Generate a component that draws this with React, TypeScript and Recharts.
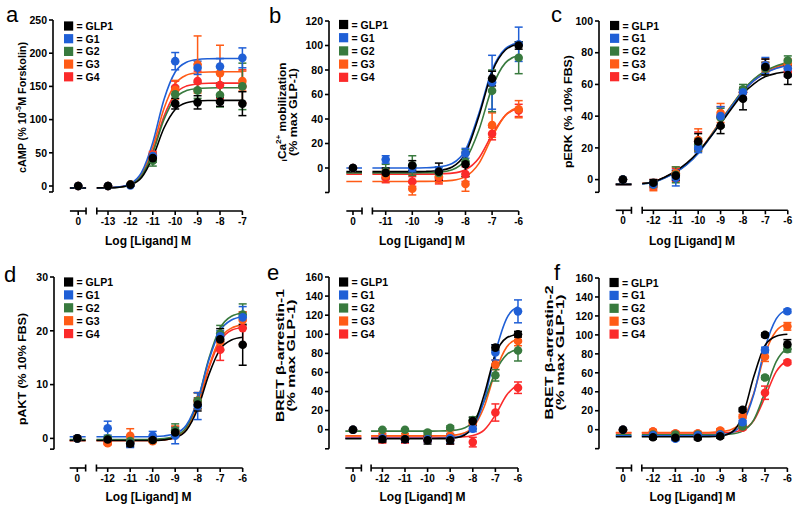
import React from 'react';
import { ComposedChart, Line, Scatter, ErrorBar, XAxis, YAxis, ReferenceLine } from 'recharts';

const FONT = '"Liberation Sans", Arial, Helvetica, sans-serif';
const SERIES = ['GLP1', 'G1', 'G2', 'G3', 'G4'];
const COLORS = ['#000000', '#1f5fd6', '#387a3e', '#ff5b16', '#fb2a2a'];
const DRAW_ORDER = [4, 3, 2, 1, 0];

// ---- a: cAMP ----  (first x = no ligand, drawn at "0")
const A_X = [-14.33, -13, -12, -11, -10, -9, -8, -7];
const A_XTICKS = [-13, -12, -11, -10, -9, -8, -7];
const A_YTICKS = [0, 50, 100, 150, 200, 250];
const A_MEAN = [
  [0, 0, 2, 42, 124, 126, 127, 124],
  [0, 0, 1, 45, 188, 178, 180, 193],
  [0, 0, 2, 38, 138, 144, 137, 150],
  [0, 0, 2, 46, 145, 183, 170, 158],
  [0, 0, 2, 47, 148, 158, 152, 150],
];
const A_ERR = [
  [0, 1, 1, 6, 8, 10, 7, 18],
  [0, 1, 1, 5, 13, 10, 12, 15],
  [0, 1, 1, 8, 12, 12, 18, 35],
  [0, 1, 1, 5, 14, 43, 42, 15],
  [0, 1, 1, 5, 10, 15, 20, 25],
];
const A_FIT_X = [-14.7, -13.98, -13.75, -13.5, -13, -12.5, -12, -11.5, -11, -10.5, -10, -9.5, -9, -8.5, -8, -7.5, -7];
const A_FIT = [
  [-3, -3, null, -2.9, -2.7, -1.9, 1.4, 12.9, 43.5, 87.3, 115.3, 125.3, 128.0, 128.7, 128.9, 129, 129],
  [-3, -3, null, -2.9, -2.6, -1.3, 3.5, 20.5, 65.7, 130.4, 171.7, 186.5, 190.6, 191.6, 191.9, 192, 192],
  [-3, -3, null, -2.9, -2.7, -1.7, 2.0, 15.2, 50.2, 100.3, 132.3, 143.7, 146.9, 147.7, 147.9, 148, 148],
  [-3, -3, null, -2.9, -2.6, -1.5, 2.8, 18.1, 58.7, 116.8, 153.8, 167.0, 170.7, 171.7, 171.9, 172, 172],
  [-3, -3, null, -2.9, -2.7, -1.6, 2.2, 16.0, 52.7, 105.1, 138.6, 150.5, 153.8, 154.7, 154.9, 155, 155],
];

// ---- b: iCa2+ ----
const B_X = [-12.23, -11, -10, -9, -8, -7, -6];
const B_XTICKS = [-11, -10, -9, -8, -7, -6];
const B_YTICKS = [0, 20, 40, 60, 80, 100, 120];
const B_MEAN = [
  [0, -4, 2, -3, 3, 73, 100],
  [0, 7, 0, -2, 12, 70, 101],
  [0, -3, 2, -4, 5, 63, 90],
  [0, -6, -17, -7, -13, 35, 48],
  [0, -8, -11, -8, -5, 28, 47],
];
const B_ERR = [
  [0, 4, 4, 7, 10, 6, 3],
  [0, 3, 3, 3, 4, 22, 14],
  [0, 6, 8, 5, 10, 17, 13],
  [0, 5, 5, 5, 6, 10, 7],
  [0, 4, 4, 5, 6, 5, 5],
];
const B_FIT_X = [-12.48, -11.89, -11.7, -11.5, -11, -10.5, -10, -9.5, -9, -8.5, -8, -7.5, -7, -6.5, -6];
const B_FIT = [
  [-3, -3, null, -3, -3, -3, -3, -2.8, -2.1, 0.8, 12.1, 42.1, 78.4, 96.3, 101.4],
  [0, 0, null, 0, 0, 0, 0, 0.2, 0.9, 3.7, 14.8, 44.3, 79.9, 97.4, 102.4],
  [-4, -4, null, -4, -4, -4, -4, -3.9, -3.4, -1.4, 6.7, 30.8, 65.6, 85.8, 92.0],
  [-11, -11, null, -11, -11, -11, -11, -10.9, -10.8, -10.1, -7.0, 3.6, 25.2, 43.0, 49.7],
  [-5, -5, null, -5, -5, -5, -5, -5, -4.8, -4.2, -1.4, 8.0, 27.2, 43.0, 49.0],
];

// ---- c: pERK ----
const C_X = [-13.36, -12, -11, -10, -9, -8, -7, -6];
const C_XTICKS = [-12, -11, -10, -9, -8, -7, -6];
const C_YTICKS = [0, 20, 40, 60, 80, 100];
const C_MEAN = [
  [0, -2, 2.5, 24, 34, 51, 71, 66],
  [0, -3, 1, 20, 40, 55, 72, 70],
  [0, -3, 3, 22, 39, 57, 70, 75],
  [0, -4, 4, 25, 42, 55, 72, 73],
  [0, -3, 3, 24, 40, 55, 70, 68],
];
const C_ERR = [
  [0, 2, 3, 5, 5, 7, 5, 6],
  [0, 2, 5, 3, 6, 3, 5, 5],
  [0, 2, 5, 4, 6, 3, 4, 3],
  [0, 3, 4, 7, 6, 3, 4, 3],
  [0, 3, 4, 6, 6, 3, 4, 3],
];
const C_FIT_X = [-13.68, -12.98, -12.75, -12.5, -12, -11.5, -11, -10.5, -10, -9.5, -9, -8.5, -8, -7.5, -7, -6.5, -6];
const C_FIT = [
  [-3, -3, null, -2.5, -1.5, 1.5, 5.4, 10.5, 17.4, 26, 35.3, 45, 54.2, 60.5, 65, 67, 68],
  [-3, -3, null, -2.7, -1.7, 1.0, 4.6, 9.6, 16.5, 25.8, 36.0, 46.2, 55.5, 62.5, 67.2, 70.2, 72],
  [-3, -3, null, -2.6, -1.6, 1.2, 4.8, 9.8, 16.8, 26.2, 36.5, 46.8, 56.3, 63.5, 68.6, 71.8, 74],
  [-3, -3, null, -2.5, -1.5, 1.3, 5.0, 10.1, 17.2, 26.7, 37.0, 47.0, 56.2, 63.2, 68.2, 71.3, 73.3],
  [-3, -3, null, -2.5, -1.5, 1.3, 5.0, 10.0, 17.0, 26.4, 36.6, 46.5, 55.6, 62.5, 67.4, 70.5, 72.5],
];

// ---- d: pAKT ----
const D_X = [-13.35, -12, -11, -10, -9, -8, -7, -6];
const D_XTICKS = [-12, -11, -10, -9, -8, -7, -6];
const D_YTICKS = [0, 10, 20, 30];
const D_MEAN = [
  [0, -0.2, -1, -0.3, 1.1, 6.3, 18.4, 17.4],
  [0, 1.9, -1, 0.5, 0.5, 6, 19, 22.5],
  [0, 0, -0.5, -0.3, 1.5, 7, 19.5, 23],
  [0, -0.9, 0.5, -0.5, 1.3, 7, 18, 22],
  [0, -0.8, -0.5, -0.3, 1.2, 7, 16.5, 20.5],
];
const D_ERR = [
  [0, 0.3, 0.5, 0.3, 0.5, 1.2, 2, 3.8],
  [0, 1.3, 0.7, 0.8, 1.5, 2.5, 1, 2],
  [0, 0.3, 0.3, 0.3, 1.2, 1.5, 1.5, 2],
  [0, 0.3, 1.3, 0.3, 1, 1.5, 1.5, 1.5],
  [0, 0.3, 0.3, 0.3, 1, 1.5, 2, 3],
];
const D_FIT_X = [-13.69, -12.98, -12.75, -12.5, -12, -11.5, -11, -10.5, -10, -9.5, -9, -8.5, -8, -7.5, -7, -6.5, -6];
const D_FIT = [
  [-0.4, -0.4, null, -0.4, -0.4, -0.4, -0.4, -0.4, -0.4, -0.27, 0.1, 1.5, 5.5, 11.9, 16.6, 18.3, 18.8],
  [0.3, 0.3, null, 0.3, 0.3, 0.3, 0.3, 0.3, 0.34, 0.46, 0.9, 2.5, 7.1, 14.6, 20.0, 22.0, 22.6],
  [-0.2, -0.2, null, -0.2, -0.2, -0.2, -0.2, -0.2, -0.16, -0.04, 0.44, 2.1, 7.0, 14.9, 20.5, 22.7, 23.3],
  [-0.4, -0.4, null, -0.4, -0.4, -0.4, -0.4, -0.4, -0.36, -0.25, 0.18, 1.74, 6.2, 13.4, 18.6, 20.5, 21.1],
  [-0.4, -0.4, null, -0.4, -0.4, -0.4, -0.4, -0.4, -0.36, -0.25, 0.17, 1.7, 6.0, 13.1, 18.1, 20.1, 20.6],
];

// ---- e: BRET beta-arrestin-1 ----
const E_X = [-13.3, -12, -11, -10, -9, -8, -7, -6];
const E_XTICKS = [-12, -11, -10, -9, -8, -7, -6];
const E_YTICKS = [0, 20, 40, 60, 80, 100, 120, 140, 160];
const E_MEAN = [
  [0, -10, -10, -11, -11, 9, 86, 100],
  [0, -9, -10, -10, -9, 1, 81, 124],
  [0, 0, 0, -3, 2, 10, 57, 83],
  [0, -7, -8, -9, -6, 7, 68, 93],
  [0, -9, -10, -10, -10, -13, 18, 44],
];
const E_ERR = [
  [0, 3, 3, 4, 4, 4, 3, 3],
  [0, 3, 3, 3, 5, 3, 8, 12],
  [0, 1, 1, 2, 2, 3, 6, 11],
  [0, 5, 4, 3, 5, 3, 5, 5],
  [0, 5, 4, 3, 5, 5, 9, 6],
];
const E_FIT_X = [-13.64, -12.93, -12.7, -12.5, -12, -11.5, -11, -10.5, -10, -9.5, -9, -8.5, -8, -7.5, -7, -6.5, -6];
const E_FIT = [
  [-9.5, -9.5, null, -9.5, -9.5, -9.5, -9.5, -9.5, -9.5, -9.4, -9.1, -7.1, 2.9, 36.3, 78.8, 96.3, 100.1],
  [-9, -9, null, -9, -9, -9, -9, -9, -9, -8.9, -8.4, -6.3, 2.2, 30.4, 80.7, 116.6, 129.0],
  [-1.5, -1.5, null, -1.5, -1.5, -1.5, -1.5, -1.5, -1.5, -1.4, -1.0, 0.8, 8.1, 29.5, 60.7, 78.7, 84.3],
  [-6.5, -6.5, null, -6.5, -6.5, -6.5, -6.5, -6.5, -6.5, -6.4, -6.0, -4.4, 2.2, 23.8, 60.9, 86.6, 95.2],
  [-8, -8, null, -8, -8, -8, -8, -8, -8, -8, -7.9, -7.6, -6.1, -0.5, 15.4, 36.4, 47.6],
];

// ---- f: BRET beta-arrestin-2 ----
const F_X = [-13.34, -12, -11, -10, -9, -8, -7, -6];
const F_XTICKS = [-12, -11, -10, -9, -8, -7, -6];
const F_YTICKS = [0, 20, 40, 60, 80, 100, 120, 140, 160];
const F_MEAN = [
  [0, -8, -8.5, -8.5, -7, 21, 100, 90],
  [0, -6, -9.5, -6, -5, 8, 84, 125],
  [0, -5, -5, -5, -5, 3.5, 55, 85],
  [0, -2, -4, -4, -1, 14, 77, 109],
  [0, -2, -4, -4, -1.5, 2, 39, 71],
];
const F_ERR = [
  [0, 2, 2, 2, 2, 2, 2, 5],
  [0, 2, 2, 2, 2, 2, 3, 2],
  [0, 2, 2, 2, 2, 2, 2, 3],
  [0, 2, 2, 2, 2, 2, 5, 4],
  [0, 2, 2, 2, 2, 2, 7, 2],
];
const F_FIT_X = [-13.66, -12.96, -12.7, -12.5, -12, -11.5, -11, -10.5, -10, -9.5, -9, -8.5, -8, -7.5, -7, -6.5, -6];
const F_FIT = [
  [-7.5, -7.5, null, -7.5, -7.5, -7.5, -7.5, -7.5, -7.5, -7.35, -6.6, -2.9, 14.3, 56.0, 88.8, 98.6, 100.6],
  [-6.5, -6.5, null, -6.5, -6.5, -6.5, -6.5, -6.5, -6.5, -6.4, -5.8, -3.3, 6.6, 37.3, 86.2, 116.9, 126.9],
  [-5.5, -5.5, null, -5.5, -5.5, -5.5, -5.5, -5.5, -5.5, -5.4, -5.3, -4.6, -1.5, 10.3, 39.6, 71.9, 86.6],
  [-3, -3, null, -3, -3, -3, -3, -3, -3, -2.9, -2.3, 0.1, 9.8, 38.5, 80.1, 104.2, 111.7],
  [-3.5, -3.5, null, -3.5, -3.5, -3.5, -3.5, -3.5, -3.5, -3.4, -3.3, -2.7, -0.1, 9.7, 34.2, 61.2, 73.5],
];

// pixel layout of each panel (page coordinates)
type Lay = {
  left: number; right: number; top: number; axisY: number; zeroY: number;
  yMax: number; yEnd: number; refX: number; refPx: number; dec: number;
};
const LAY_A: Lay = { left: 53, right: 252, top: 20, axisY: 211, zeroY: 186, yMax: 250, yEnd: -9, refX: -13, refPx: 108, dec: 22.4 };
const LAY_B: Lay = { left: 329.3, right: 524, top: 20.7, axisY: 210.7, zeroY: 167.7, yMax: 120, yEnd: -20, refX: -11, refPx: 386, dec: 26.6 };
const LAY_C: Lay = { left: 599.3, right: 795, top: 20.7, axisY: 210, zeroY: 179.3, yMax: 100, yEnd: -8, refX: -12, refPx: 653.7, dec: 22.4 };
const LAY_D: Lay = { left: 54.3, right: 250, top: 277.3, axisY: 468.3, zeroY: 438.7, yMax: 30, yEnd: -2, refX: -12, refPx: 108, dec: 22.5 };
const LAY_E: Lay = { left: 329.3, right: 524, top: 277.3, axisY: 468.3, zeroY: 430, yMax: 160, yEnd: -20, refX: -12, refPx: 382.7, dec: 22.6 };
const LAY_F: Lay = { left: 599.3, right: 795, top: 278.3, axisY: 468.3, zeroY: 430, yMax: 160, yEnd: -20, refX: -12, refPx: 653.3, dec: 22.4 };

const YW = 50;
const MT = 8;
const XH = 30;
const AX = { stroke: '#000', strokeWidth: 1.6 };
const TICK = { fill: '#000', fontSize: 10.5, fontWeight: 700, fontFamily: FONT };

type PanelProps = {
  lay: Lay; xs: number[]; mean: number[][]; err: number[][];
  fitX: number[]; fit: (number | null)[][]; xTicks: number[]; yTicks: number[];
};

function Panel({ lay, xs, mean, err, fitX, fit, xTicks, yTicks }: PanelProps) {
  const ppu = (lay.zeroY - lay.top) / lay.yMax;
  const yMin = -(lay.axisY - lay.zeroY) / ppu;
  const xMin = lay.refX - (lay.refPx - lay.left) / lay.dec;
  const xMax = lay.refX + (lay.right - lay.refPx) / lay.dec;
  const zero = xs[0];
  const seg1 = [fitX[0], fitX[1]];
  const seg2 = [fitX[3], xTicks[xTicks.length - 1]];
  const nub = 3.5 / ppu;
  const width = lay.right - lay.left + YW;
  const height = lay.axisY - lay.top + MT + XH;

  return (
    <div style={{ position: 'absolute', left: lay.left - YW, top: lay.top - MT }}>
      <ComposedChart width={width} height={height} margin={{ top: MT, right: 0, bottom: 0, left: 0 }}>
        <XAxis
          type="number" dataKey="x" domain={[xMin, xMax]} ticks={[zero, ...xTicks]} interval={0}
          tickFormatter={(v: number) => (v === zero ? '0' : String(v))}
          axisLine={false} tickLine={AX} tickSize={4} tickMargin={3} height={XH}
          tick={{ ...TICK, fontSize: 10 }}
        />
        <YAxis
          type="number" domain={[yMin, lay.yMax]} ticks={[lay.yEnd, ...yTicks]} interval={0}
          tickFormatter={(v: number) => (v === lay.yEnd ? '' : String(v))}
          axisLine={false} tickLine={AX} tickSize={4} tickMargin={2} width={YW} tick={TICK}
        />
        <ReferenceLine segment={[{ x: xMin, y: lay.yEnd }, { x: xMin, y: lay.yMax }]} {...AX} ifOverflow="visible" />
        <ReferenceLine segment={[{ x: seg1[0], y: yMin }, { x: seg1[1], y: yMin }]} {...AX} ifOverflow="visible" />
        <ReferenceLine segment={[{ x: seg2[0], y: yMin }, { x: seg2[1], y: yMin }]} {...AX} ifOverflow="visible" />
        <ReferenceLine segment={[{ x: seg1[1], y: yMin - nub }, { x: seg1[1], y: yMin + nub }]} {...AX} ifOverflow="visible" />
        <ReferenceLine segment={[{ x: seg2[0], y: yMin - nub }, { x: seg2[0], y: yMin + nub }]} {...AX} ifOverflow="visible" />
        {DRAW_ORDER.map((s) => (
          <Line
            key={'fit' + s}
            data={fitX.map((x, i) => ({ x, y: fit[s][i] }))}
            dataKey="y" type="monotone" stroke={COLORS[s]} strokeWidth={1.6}
            dot={false} activeDot={false} connectNulls={false} isAnimationActive={false}
          />
        ))}
        {DRAW_ORDER.map((s) => (
          <Scatter
            key={'pts' + s}
            data={xs.map((x, i) => ({ x, y: mean[s][i], e: err[s][i] }))}
            dataKey="y" fill={COLORS[s]} isAnimationActive={false}
            shape={(p: any) => <circle cx={p.cx} cy={p.cy} r={4.3} fill={COLORS[s]} />}
          >
            <ErrorBar dataKey="e" direction="y" width={4} stroke={COLORS[s]} strokeWidth={1.5} />
          </Scatter>
        ))}
      </ComposedChart>
    </div>
  );
}

const LETTERS = [
  { t: 'a', x: 6, y: 22 }, { t: 'b', x: 269, y: 23 }, { t: 'c', x: 551, y: 22 },
  { t: 'd', x: 4, y: 282 }, { t: 'e', x: 267, y: 280 }, { t: 'f', x: 554, y: 280 },
];
const LEGEND_POS = [
  { x: 64, y: 26, gap: 12.7 }, { x: 339, y: 24.5, gap: 13.2 }, { x: 610, y: 25.5, gap: 12.8 },
  { x: 64, y: 282, gap: 12.9 }, { x: 339, y: 282, gap: 13 }, { x: 609.5, y: 282.5, gap: 12.9 },
];
const X_TITLES = [
  { x: 148, y: 241 }, { x: 422, y: 241 }, { x: 692, y: 240.5 },
  { x: 148.5, y: 497 }, { x: 422.5, y: 497 }, { x: 692.5, y: 497 },
];

const Y_TITLES: { xs: number[]; cy: number; size: number; len: number[]; lines: React.ReactNode[] }[] = [
  {
    xs: [21.5], cy: 107.5, size: 11, len: [131],
    lines: [<>cAMP (% 10<tspan dy={-4} fontSize={7.5}>-5</tspan><tspan dy={4}>M Forskolin)</tspan></>],
  },
  {
    xs: [282, 292.5], cy: 112, size: 11, len: [99, 88],
    lines: [
      <><tspan fontSize={8} dy={1.5}>i</tspan><tspan dy={-1.5}>Ca</tspan><tspan dy={-4} fontSize={7.5}>2+</tspan><tspan dy={4}> mobilization</tspan></>,
      <>(% max GLP-1)</>,
    ],
  },
  { xs: [568], cy: 111.5, size: 11.5, len: [113], lines: [<>pERK (% 10% FBS)</>] },
  { xs: [22], cy: 369, size: 11.5, len: [112], lines: [<>pAKT (% 10% FBS)</>] },
  { xs: [280, 291], cy: 355.5, size: 11, len: [133, 112], lines: [<>BRET β-arrestin-1</>, <>(% max GLP-1)</>] },
  { xs: [548.5, 560], cy: 352.5, size: 11, len: [134, 116], lines: [<>BRET β-arrestin-2</>, <>(% max GLP-1)</>] },
];

function Overlay() {
  return (
    <svg width={800} height={510} style={{ position: 'absolute', left: 0, top: 0, pointerEvents: 'none' }}
      fontFamily={FONT}>
      {LETTERS.map((l) => (
        <text key={l.t} x={l.x} y={l.y} fontSize={22} fill="#000">{l.t}</text>
      ))}
      {X_TITLES.map((t, i) => (
        <text key={'xt' + i} x={t.x} y={t.y} fontSize={12} fontWeight={700} textAnchor="middle"
          dominantBaseline="central">Log [Ligand] M</text>
      ))}
      {Y_TITLES.map((t, i) =>
        t.lines.map((ln, j) => (
          <text key={'yt' + i + '-' + j} transform={`translate(${t.xs[j]},${t.cy}) rotate(-90)`}
            fontSize={t.size} fontWeight={700} textAnchor="middle" dominantBaseline="central"
            textLength={t.len[j]} lengthAdjust="spacingAndGlyphs">{ln}</text>
        )),
      )}
      {LEGEND_POS.map((p, i) =>
        SERIES.map((name, s) => (
          <g key={'lg' + i + '-' + s}>
            <rect x={p.x} y={p.y + s * p.gap - 4.6} width={9.2} height={9.2} fill={COLORS[s]} />
            <text x={p.x + 12.5} y={p.y + s * p.gap} fontSize={10.5} fontWeight={700}
              dominantBaseline="central">= {name}</text>
          </g>
        )),
      )}
    </svg>
  );
}

export default function App() {
  return (
    <div style={{ position: 'fixed', left: 0, top: 0, width: 800, height: 510, background: '#fff', overflow: 'hidden' }}>
      <Panel lay={LAY_A} xs={A_X} mean={A_MEAN} err={A_ERR} fitX={A_FIT_X} fit={A_FIT} xTicks={A_XTICKS} yTicks={A_YTICKS} />
      <Panel lay={LAY_B} xs={B_X} mean={B_MEAN} err={B_ERR} fitX={B_FIT_X} fit={B_FIT} xTicks={B_XTICKS} yTicks={B_YTICKS} />
      <Panel lay={LAY_C} xs={C_X} mean={C_MEAN} err={C_ERR} fitX={C_FIT_X} fit={C_FIT} xTicks={C_XTICKS} yTicks={C_YTICKS} />
      <Panel lay={LAY_D} xs={D_X} mean={D_MEAN} err={D_ERR} fitX={D_FIT_X} fit={D_FIT} xTicks={D_XTICKS} yTicks={D_YTICKS} />
      <Panel lay={LAY_E} xs={E_X} mean={E_MEAN} err={E_ERR} fitX={E_FIT_X} fit={E_FIT} xTicks={E_XTICKS} yTicks={E_YTICKS} />
      <Panel lay={LAY_F} xs={F_X} mean={F_MEAN} err={F_ERR} fitX={F_FIT_X} fit={F_FIT} xTicks={F_XTICKS} yTicks={F_YTICKS} />
      <Overlay />
    </div>
  );
}
